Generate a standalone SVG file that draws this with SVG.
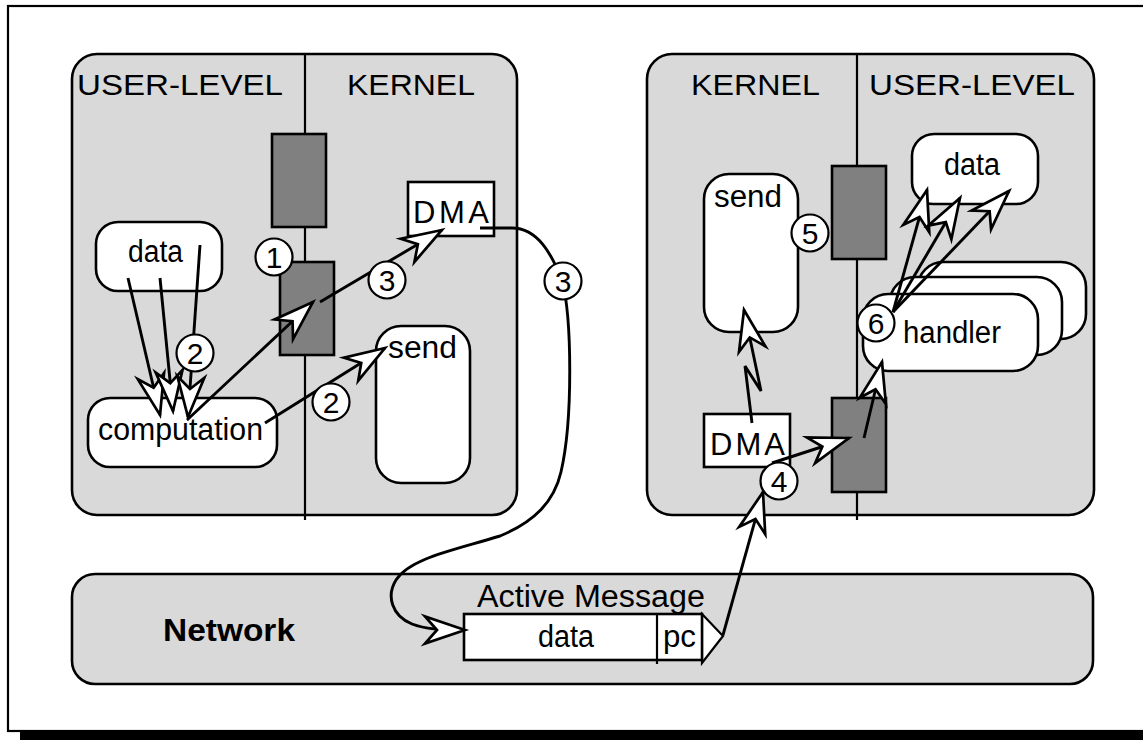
<svg xmlns="http://www.w3.org/2000/svg" width="1143" height="740" viewBox="0 0 1143 740">
  <style>
    text { font-family: "Liberation Sans", Arial, Helvetica, sans-serif; font-size: 31px; fill: #000; }
    .head { font-size: 29px; }
    .panel { fill: #d9d9d9; stroke: #000; stroke-width: 2.6; }
    .node { fill: #fff; stroke: #000; stroke-width: 2.6; }
    .gate { fill: #808080; stroke: #000; stroke-width: 2.6; }
    .divider { stroke: #000; stroke-width: 2.2; }
    .wire { fill: none; stroke: #000; stroke-width: 2.9; stroke-linejoin: miter; marker-end: url(#ah); }
    .step circle { fill: #fff; stroke: #000; stroke-width: 2.2; }
    .step text { text-anchor: middle; font-size: 30px; }
  </style>
  <defs>
    <!-- hollow notched arrowhead -->
    <marker id="ah" markerUnits="userSpaceOnUse" orient="auto" refX="0" refY="0"
            markerWidth="60" markerHeight="40" viewBox="-45 -20 60 40" overflow="visible">
      <path d="M0,0 L-40,-13.5 L-28,0 L-40,13.5 Z" fill="#fff" stroke="#000" stroke-width="2.7" stroke-linejoin="miter"/>
    </marker>
  </defs>

  <!-- page -->
  <rect x="0" y="0" width="1143" height="740" fill="#fff"/>
  <rect x="20" y="732" width="1130" height="10" fill="#000"/>
  <rect x="8" y="6" width="1150" height="725" fill="#fff" stroke="#000" stroke-width="2.2"/>

  <!-- sending host -->
  <g id="host-send">
    <rect class="panel" x="72" y="54" width="445" height="461" rx="25"/>
    <line class="divider" x1="305" y1="54" x2="305" y2="520"/>
    <text class="head" x="77" y="95" textLength="206" lengthAdjust="spacingAndGlyphs">USER-LEVEL</text>
    <text class="head" x="347" y="95" textLength="128" lengthAdjust="spacingAndGlyphs">KERNEL</text>
  </g>

  <!-- receiving host -->
  <g id="host-recv">
    <rect class="panel" x="647" y="54" width="447" height="461" rx="25"/>
    <line class="divider" x1="857" y1="54" x2="857" y2="520"/>
    <text class="head" x="691" y="95" textLength="129" lengthAdjust="spacingAndGlyphs">KERNEL</text>
    <text class="head" x="869" y="95" textLength="206" lengthAdjust="spacingAndGlyphs">USER-LEVEL</text>
  </g>

  <!-- network -->
  <g id="network">
    <rect class="panel" x="72" y="574" width="1021" height="110" rx="23"/>
    <text x="163" y="641" font-size="29" font-weight="bold" textLength="132" lengthAdjust="spacingAndGlyphs">Network</text>
  </g>

  <g id="active-message">
    <text x="477" y="607" font-size="30" textLength="228" lengthAdjust="spacingAndGlyphs">Active Message</text>
    <polygon points="702,614 723,636 702,663" fill="#fff" stroke="#000" stroke-width="2.2"/>
    <rect x="464" y="614" width="238" height="46" fill="#fff" stroke="#000" stroke-width="2.6"/>
    <line x1="657" y1="614" x2="657" y2="664" stroke="#000" stroke-width="2.2"/>
    <text x="538" y="647" textLength="56" lengthAdjust="spacingAndGlyphs">data</text>
    <text x="663" y="647" textLength="33" lengthAdjust="spacingAndGlyphs">pc</text>
  </g>

  <!-- sender nodes -->
  <g id="gate-send-upper"><rect class="gate" x="272" y="134" width="54" height="93"/></g>
  <g id="gate-send-lower"><rect class="gate" x="280" y="262" width="54" height="93"/></g>
  <g id="data-send">
    <rect class="node" x="96" y="222" width="126" height="69" rx="22"/>
    <text x="128" y="262" textLength="55" lengthAdjust="spacingAndGlyphs">data</text>
  </g>
  <g id="computation">
    <rect class="node" x="88" y="398" width="189" height="69" rx="22"/>
    <text x="98" y="440" textLength="165" lengthAdjust="spacingAndGlyphs">computation</text>
  </g>
  <g id="send-kernel-left">
    <rect class="node" x="376" y="326" width="94" height="157" rx="25"/>
    <text x="388" y="358" textLength="69" lengthAdjust="spacingAndGlyphs">send</text>
  </g>
  <g id="dma-send">
    <rect class="node" x="408" y="182" width="86" height="54"/>
    <text x="413" y="223" font-size="30" textLength="76">DMA</text>
  </g>

  <!-- receiver nodes -->
  <g id="gate-recv-upper"><rect class="gate" x="832" y="166" width="54" height="93"/></g>
  <g id="gate-recv-lower"><rect class="gate" x="832" y="398" width="54" height="94"/></g>
  <g id="send-kernel-right">
    <rect class="node" x="704" y="174" width="94" height="158" rx="25"/>
    <text x="714" y="207" textLength="68" lengthAdjust="spacingAndGlyphs">send</text>
  </g>
  <g id="dma-recv">
    <rect class="node" x="704" y="414" width="86" height="53"/>
    <text x="710" y="455" font-size="30" textLength="75">DMA</text>
  </g>
  <g id="data-recv">
    <rect class="node" x="912" y="134" width="126" height="70" rx="22"/>
    <text x="944" y="175" textLength="56" lengthAdjust="spacingAndGlyphs">data</text>
  </g>
  <g id="handlers">
    <rect class="node" x="918" y="262" width="168" height="77" rx="25"/>
    <rect class="node" x="890" y="277" width="172" height="78" rx="25"/>
    <rect class="node" x="863" y="294" width="175" height="77" rx="25"/>
    <text x="903" y="343" textLength="98" lengthAdjust="spacingAndGlyphs">handler</text>
  </g>

  <!-- connectors -->
  <g id="connectors">
    <path class="wire" d="M128,278 L160,415"/>
    <path class="wire" d="M160,278 L173,411"/>
    <path class="wire" d="M200,245 L188,417"/>
    <path class="wire" d="M187,420 L313,302"/>
    <path class="wire" d="M320,302 L442,230"/>
    <path class="wire" d="M265,423 L385,348"/>
    <path class="wire" stroke-width="2.3" d="M480,228 H512 C538,228 552,255 562,280 C572,318 573,420 561,472 C554,502 534,522 500,536 C455,550 410,558 396,580 C386,596 392,616 412,624 C425,629 440,630 465,630"/>
    <path class="wire" d="M723,635 L763,492"/>
    <path class="wire" d="M772,463 L849,438"/>
    <path class="wire" d="M752,423 L745,366 L761,391 L744,310"/>
    <path class="wire" d="M864,438 L882,362"/>
    <path class="wire" d="M893,312 L927,190"/>
    <path class="wire" d="M893,312 L960,198"/>
    <path class="wire" d="M893,312 L1009,191"/>
  </g>

  <!-- step numbers -->
  <g id="steps" class="step">
    <g><circle cx="274" cy="257" r="18.5"/><text x="274" y="268">1</text></g>
    <g><circle cx="195" cy="353" r="18.5"/><text x="195" y="364">2</text></g>
    <g><circle cx="331" cy="402" r="18.5"/><text x="331" y="413">2</text></g>
    <g><circle cx="387" cy="280" r="18.5"/><text x="387" y="291">3</text></g>
    <g><circle cx="563" cy="281" r="18.5"/><text x="563" y="292">3</text></g>
    <g><circle cx="779" cy="481" r="18.5"/><text x="779" y="492">4</text></g>
    <g><circle cx="810" cy="233" r="18.5"/><text x="810" y="244">5</text></g>
    <g><circle cx="876" cy="323" r="18.5"/><text x="876" y="334">6</text></g>
  </g>
</svg>
